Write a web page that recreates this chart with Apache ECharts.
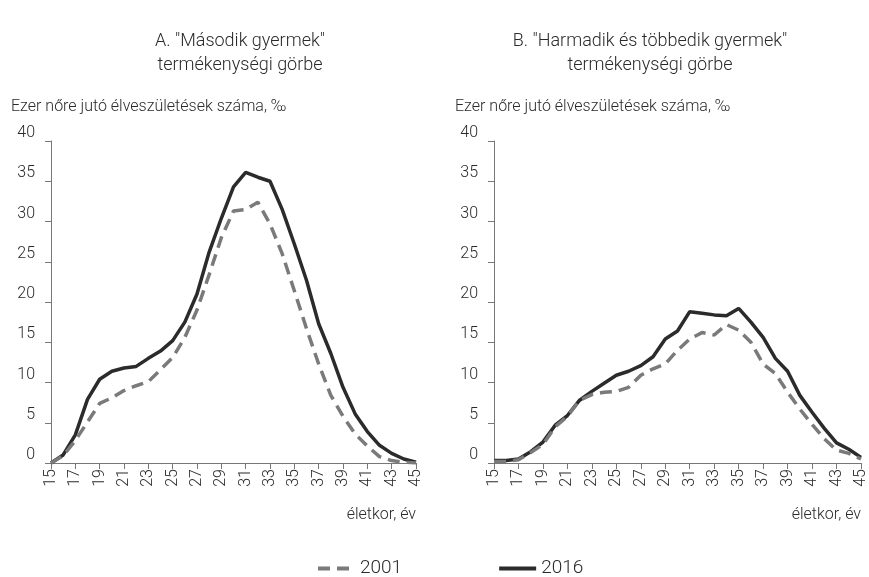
<!DOCTYPE html>
<html>
<head>
<meta charset="utf-8">
<script src="https://cdn.jsdelivr.net/npm/echarts@6/dist/echarts.min.js"></script>
<style>
  html, body { margin: 0; padding: 0; background: #fff; }
  #chart { width: 869px; height: 577px; }
</style>
</head>
<body>
<div id="chart"></div>
<script>
// életkor 15..45
const ages = [];
for (let a = 15; a <= 45; a++) ages.push(String(a));

// A. második gyermek
const masodik2001 = [0, 0.9, 2.8, 5.1, 7.4, 8.1, 9.0, 9.6, 10.1, 11.6, 13.1, 15.6, 19.0, 23.4, 28.0, 31.3, 31.5, 32.4, 29.7, 26.0, 21.4, 16.7, 12.3, 8.4, 5.8, 3.6, 2.1, 0.8, 0.3, 0.1, 0];
const masodik2016 = [0, 1.0, 3.5, 7.9, 10.4, 11.4, 11.8, 12.0, 13.0, 13.9, 15.2, 17.5, 21.0, 26.2, 30.4, 34.3, 36.1, 35.5, 35.0, 31.5, 27.2, 22.7, 17.3, 13.6, 9.4, 6.1, 3.9, 2.2, 1.2, 0.5, 0.1];

// B. harmadik és többedik gyermek
const harmadik2001 = [0.2, 0.2, 0.4, 1.3, 2.3, 4.5, 5.8, 7.8, 8.5, 8.8, 8.9, 9.4, 10.9, 11.7, 12.3, 14.0, 15.4, 16.2, 15.9, 17.2, 16.5, 15.0, 12.3, 11.1, 8.8, 6.7, 4.8, 3.0, 1.6, 1.2, 0.5];
const harmadik2016 = [0.3, 0.3, 0.5, 1.4, 2.6, 4.7, 5.9, 7.8, 8.9, 9.9, 10.9, 11.4, 12.1, 13.2, 15.4, 16.4, 18.8, 18.6, 18.4, 18.3, 19.2, 17.5, 15.6, 13.0, 11.4, 8.4, 6.3, 4.3, 2.5, 1.7, 0.7];

const FONT = "'Roboto', sans-serif";
const W = 300; // light
const TXT = '#2a2a2a';

const chart = echarts.init(document.getElementById('chart'));

function xAx(idx) {
  return {
    type: 'category',
    gridIndex: idx,
    data: ages,
    boundaryGap: false,
    name: 'életkor, év',
    nameLocation: 'end',
    nameGap: 0,
    nameTextStyle: {
      color: TXT, fontFamily: FONT, fontWeight: W, fontSize: 16,
      align: 'right', verticalAlign: 'top', padding: [44, 0, 0, 0]
    },
    axisLine: { lineStyle: { color: '#777', width: 1 } },
    axisTick: { interval: 1, length: 6, lineStyle: { color: '#777' } },
    axisLabel: { interval: 1, rotate: 90, color: TXT, fontFamily: FONT, fontWeight: W, fontSize: 16, margin: 6 }
  };
}
function yAx(idx) {
  return {
    type: 'value',
    gridIndex: idx,
    min: 0, max: 40, interval: 5,
    splitLine: { show: false },
    axisLine: { show: true, lineStyle: { color: '#777', width: 1 } },
    axisTick: { show: true, length: 6, lineStyle: { color: '#777' } },
    axisLabel: { color: TXT, fontFamily: FONT, fontWeight: W, fontSize: 16, margin: 16, verticalAlign: 'bottom' }
  };
}
function ser(name, idx, data, dashed) {
  return {
    name: name,
    type: 'line',
    xAxisIndex: idx, yAxisIndex: idx,
    data: data,
    symbol: 'none',
    lineStyle: dashed
      ? { color: '#7a7a7a', width: 3.5, type: [12, 7] }
      : { color: '#2b2b2b', width: 3.5 },
    itemStyle: { color: dashed ? '#7a7a7a' : '#2b2b2b' },
    z: dashed ? 3 : 2
  };
}

const tStyle = { color: TXT, fontFamily: FONT, fontWeight: W, fontSize: 18, lineHeight: 24 };
const nStyle = { color: TXT, fontFamily: FONT, fontWeight: W, fontSize: 16 };

const option = {
  animation: false,
  textStyle: { fontFamily: FONT },
  title: [
    { text: 'A. "Második gyermek"\ntermékenységi görbe', left: 235, top: 24, textAlign: 'center', textStyle: tStyle },
    { text: 'B. "Harmadik és többedik gyermek"\ntermékenységi görbe', left: 645, top: 24, textAlign: 'center', textStyle: tStyle },
    { text: 'Ezer nőre jutó élveszületések száma, ‰', left: 6, top: 94, textStyle: nStyle },
    { text: 'Ezer nőre jutó élveszületések száma, ‰', left: 450, top: 94, textStyle: nStyle }
  ],
  legend: {
    data: ['2001', '2016'],
    top: 554,
    left: 311,
    itemWidth: 37,
    itemHeight: 4,
    itemGap: 95,
    lineStyle: { width: 4 },
    itemStyle: { opacity: 0 },
    textStyle: { color: TXT, fontFamily: FONT, fontWeight: W, fontSize: 19 }
  },
  grid: [
    { left: 51, right: 453, top: 141, bottom: 114 },
    { left: 494, right: 8, top: 141, bottom: 114 }
  ],
  xAxis: [xAx(0), xAx(1)],
  yAxis: [yAx(0), yAx(1)],
  series: [
    ser('2001', 0, masodik2001, true),
    ser('2016', 0, masodik2016, false),
    ser('2001', 1, harmadik2001, true),
    ser('2016', 1, harmadik2016, false)
  ]
};

chart.setOption(option);
window.addEventListener('resize', () => chart.resize());
</script>
</body>
</html>
